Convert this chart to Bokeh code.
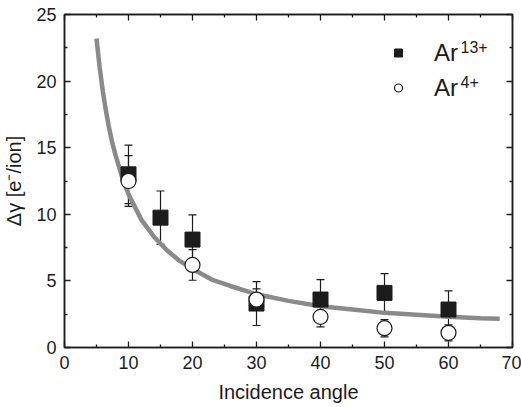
from bokeh.plotting import figure
from bokeh.models import (ColumnDataSource, Whisker, TeeHead, LinearAxis, Legend,
                          LegendItem, Label, Range1d, FixedTicker, CustomJSTickFormatter)
from bokeh.embed import file_html
from bokeh.resources import INLINE

# Measured yield difference vs. incidence angle
angle_ar13 = [10, 15, 20, 30, 40, 50, 60]
gamma_ar13 = [13.0, 9.75, 8.1, 3.3, 3.6, 4.1, 2.85]
err_ar13 = [2.2, 2.0, 1.85, 1.65, 1.5, 1.45, 1.4]

angle_ar4 = [10, 20, 30, 40, 50, 60]
gamma_ar4 = [12.5, 6.2, 3.6, 2.3, 1.45, 1.1]
err_ar4 = [1.9, 1.15, 0.8, 0.75, 0.65, 0.6]

# Fitted trend curve
fit_angle = [5, 5.5, 6, 6.5, 7, 7.5, 8, 9, 10, 12, 14, 16, 18, 20, 23, 26, 30,
             35, 40, 45, 50, 55, 60, 65, 68]
fit_gamma = [23.2, 21.0, 19.2, 17.7, 16.4, 15.3, 14.4, 12.8, 11.5, 9.6, 8.3, 7.3,
             6.5, 5.9, 5.1, 4.6, 4.0, 3.5, 3.1, 2.85, 2.6, 2.45, 2.3, 2.2, 2.15]

x_ticks = [0, 10, 20, 30, 40, 50, 60, 70]
y_ticks = [0, 5, 10, 15, 20, 25]

FONT = "Liberation Sans"
INK = "#1c1c1c"

p = figure(width=521, height=407, output_backend="svg", toolbar_location=None,
           x_range=Range1d(0, 70), y_range=Range1d(0, 25),
           min_border_left=63, min_border_right=9, min_border_top=14,
           min_border_bottom=60, x_axis_label="Incidence angle",
           y_axis_label="Δγ [e⁻/ion]")
p.grid.visible = False
p.outline_line_color = INK
p.outline_line_width = 1.5
p.background_fill_color = "white"
p.border_fill_color = "white"


def style_axis(ax, ticks, show_labels):
    ax.ticker = FixedTicker(ticks=ticks,
                            minor_ticks=[t + (ticks[1] - ticks[0]) / 2 for t in ticks[:-1]])
    ax.major_tick_in = 6
    ax.major_tick_out = 0
    ax.minor_tick_in = 3
    ax.minor_tick_out = 0
    ax.axis_line_color = INK
    ax.axis_line_width = 1.5
    ax.major_tick_line_color = INK
    ax.major_tick_line_width = 1.3
    ax.minor_tick_line_color = INK
    ax.minor_tick_line_width = 1.3
    if show_labels:
        ax.major_label_text_font = FONT
        ax.major_label_text_font_size = "18px"
        ax.major_label_text_color = INK
        ax.major_label_standoff = 8
        ax.axis_label_text_font = FONT
        ax.axis_label_text_font_size = "20px"
        ax.axis_label_text_font_style = "normal"
        ax.axis_label_text_color = INK
    else:
        # tick marks only, no numbers on the mirrored axes
        ax.formatter = CustomJSTickFormatter(code="return ''")
        ax.major_label_text_font_size = "1px"
        ax.major_label_standoff = 0


style_axis(p.xaxis[0], x_ticks, True)
style_axis(p.yaxis[0], y_ticks, True)
p.xaxis[0].axis_label_standoff = 9
p.yaxis[0].axis_label_standoff = 8

top_axis = LinearAxis()
style_axis(top_axis, x_ticks, False)
p.add_layout(top_axis, "above")
right_axis = LinearAxis()
style_axis(right_axis, y_ticks, False)
p.add_layout(right_axis, "right")

# Trend curve
p.line(fit_angle, fit_gamma, line_color="#8a8a8a", line_width=4.5)

src13 = ColumnDataSource(dict(x=angle_ar13, y=gamma_ar13,
                              lo=[g - e for g, e in zip(gamma_ar13, err_ar13)],
                              hi=[g + e for g, e in zip(gamma_ar13, err_ar13)]))
src4 = ColumnDataSource(dict(x=angle_ar4, y=gamma_ar4,
                             lo=[g - e for g, e in zip(gamma_ar4, err_ar4)],
                             hi=[g + e for g, e in zip(gamma_ar4, err_ar4)]))

for src in (src13, src4):
    w = Whisker(source=src, base="x", lower="lo", upper="hi", dimension="height",
                line_color=INK, line_width=1.2,
                upper_head=TeeHead(size=8, line_color=INK, line_width=1.2),
                lower_head=TeeHead(size=8, line_color=INK, line_width=1.2))
    p.add_layout(w)

r13 = p.scatter("x", "y", source=src13, marker="square", size=15,
                fill_color=INK, line_color=INK, line_width=1)
r4 = p.scatter("x", "y", source=src4, marker="circle", size=15,
               fill_color="white", line_color=INK, line_width=1.2)

# Legend swatches (smaller markers than the data, kept off-canvas)
nan = float("nan")
leg13 = p.scatter([nan], [nan], marker="square", size=11, fill_color=INK,
                  line_color=INK)
leg4 = p.scatter([nan], [nan], marker="circle", size=12, fill_color="white",
                 line_color=INK, line_width=1.2)

legend = Legend(items=[LegendItem(label="Ar", renderers=[leg13], index=0),
                       LegendItem(label="Ar", renderers=[leg4], index=0)],
                location=(324, 242), orientation="vertical",
                glyph_width=20, glyph_height=35, label_height=35,
                label_standoff=26, spacing=0, padding=0, margin=0,
                label_text_font=FONT, label_text_font_size="24px",
                label_text_color=INK, border_line_alpha=0,
                background_fill_alpha=0)
p.add_layout(legend)

for txt, ypos in (("13+", 301), ("4+", 266)):
    p.add_layout(Label(x=396, y=ypos, x_units="screen", y_units="screen", text=txt,
                       text_font=FONT, text_font_size="16px", text_color=INK,
                       text_baseline="alphabetic", text_align="left"))

open("out.html", "w").write(file_html(p, INLINE))
